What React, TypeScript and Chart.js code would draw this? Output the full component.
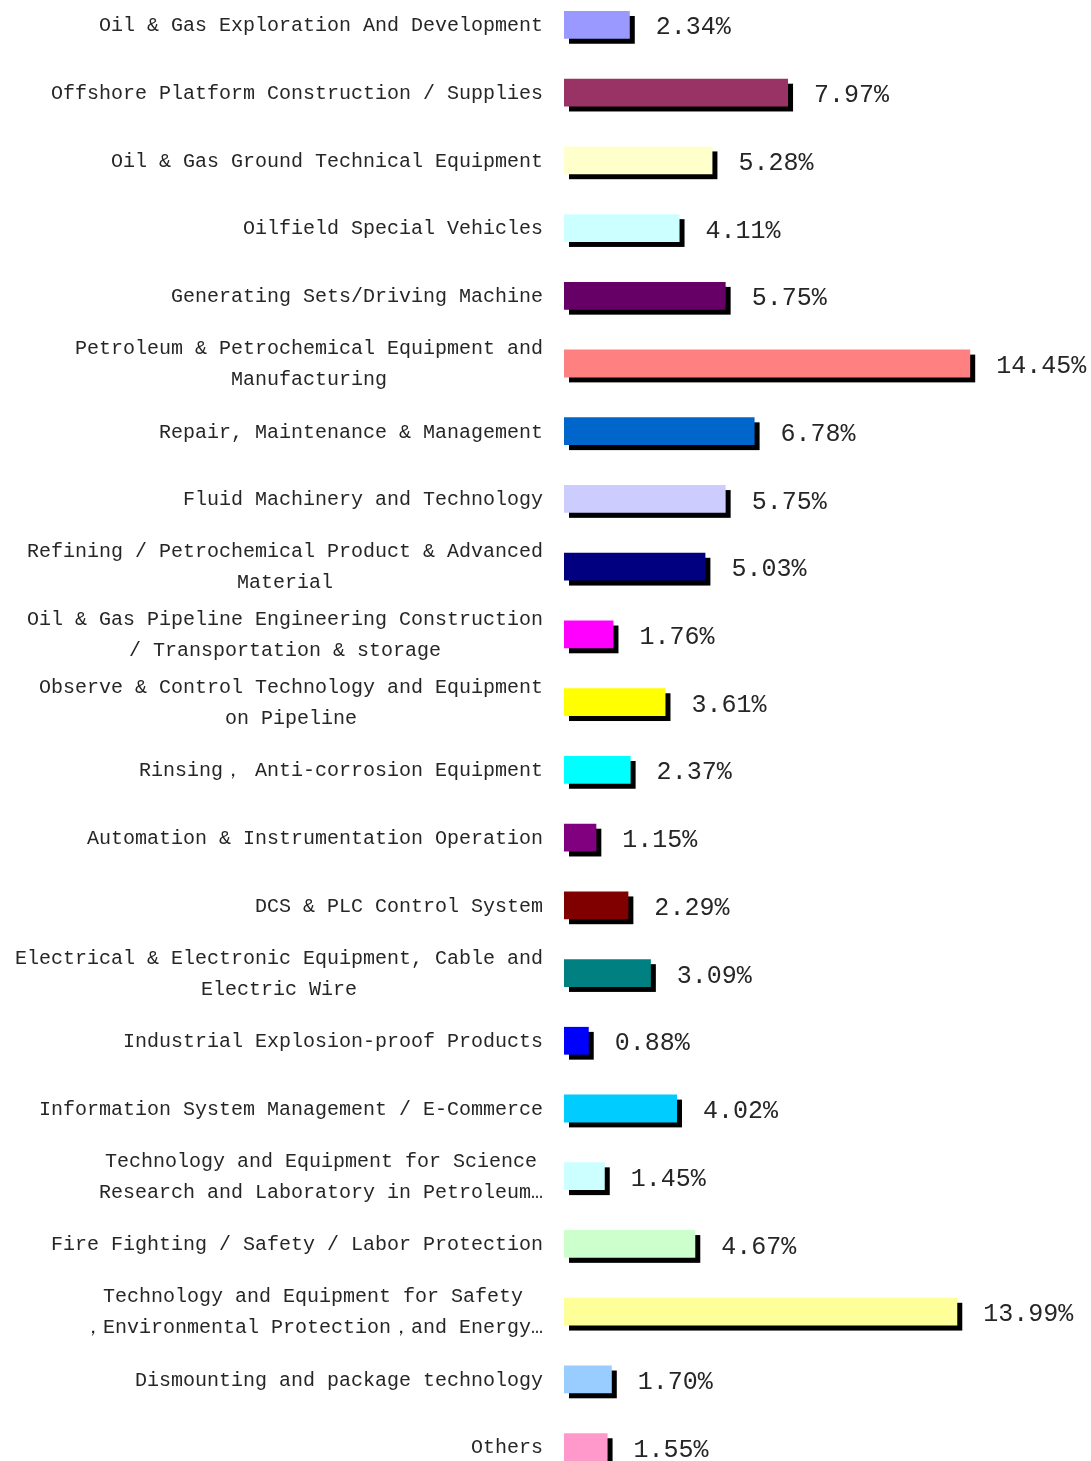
import React, { useEffect, useRef } from "react";
import { Chart, registerables } from "chart.js";

Chart.register(...registerables);

const categories: string[][] = [
  ["Oil & Gas Exploration And Development"],
  ["Offshore Platform Construction / Supplies"],
  ["Oil & Gas Ground Technical Equipment"],
  ["Oilfield Special Vehicles"],
  ["Generating Sets/Driving Machine"],
  ["Petroleum & Petrochemical Equipment and", "Manufacturing"],
  ["Repair, Maintenance & Management"],
  ["Fluid Machinery and Technology"],
  ["Refining / Petrochemical Product & Advanced", "Material"],
  ["Oil & Gas Pipeline Engineering Construction", "/ Transportation & storage"],
  ["Observe & Control Technology and Equipment", "on Pipeline"],
  ["Rinsing， Anti-corrosion Equipment"],
  ["Automation & Instrumentation Operation"],
  ["DCS & PLC Control System"],
  ["Electrical & Electronic Equipment, Cable and", "Electric Wire"],
  ["Industrial Explosion-proof Products"],
  ["Information System Management / E-Commerce"],
  ["Technology and Equipment for Science", "Research and Laboratory in Petroleum…"],
  ["Fire Fighting / Safety / Labor Protection"],
  ["Technology and Equipment for Safety", "，Environmental Protection，and Energy…"],
  ["Dismounting and package technology"],
  ["Others"],
];

const values: number[] = [
  2.34, 7.97, 5.28, 4.11, 5.75, 14.45, 6.78, 5.75, 5.03, 1.76, 3.61, 2.37, 1.15,
  2.29, 3.09, 0.88, 4.02, 1.45, 4.67, 13.99, 1.7, 1.55,
];

const colors: string[] = [
  "#9999FF", "#993366", "#FFFFCC", "#CCFFFF", "#660066", "#FF8080", "#0066CC",
  "#CCCCFF", "#000080", "#FF00FF", "#FFFF00", "#00FFFF", "#800080", "#800000",
  "#008080", "#0000FF", "#00CCFF", "#CCFFFF", "#CCFFCC", "#FFFF99", "#99CCFF",
  "#FF99CC",
];

const LABEL_FONT = '20px "Liberation Mono", "DejaVu Sans Mono", monospace';
const VALUE_FONT = '25px "Liberation Mono", "DejaVu Sans Mono", monospace';

const shadowPlugin = {
  id: "barShadow",
  beforeDatasetsDraw(chart: any) {
    const ctx = chart.ctx;
    const meta = chart.getDatasetMeta(0);
    ctx.save();
    ctx.fillStyle = "#000000";
    meta.data.forEach((bar: any) => {
      const h = bar.height;
      const left = Math.min(bar.base, bar.x);
      const w = Math.abs(bar.x - bar.base);
      ctx.fillRect(left + 5, bar.y - h / 2 + 5, w, h);
    });
    ctx.restore();
  },
};

const labelsPlugin = {
  id: "customLabels",
  afterDraw(chart: any) {
    const ctx = chart.ctx;
    const yScale = chart.scales.y;
    const meta = chart.getDatasetMeta(0);
    ctx.save();
    ctx.fillStyle = "#262626";
    ctx.textBaseline = "middle";
    ctx.font = LABEL_FONT;
    const blockRight = 543;
    const lineH = 31;
    categories.forEach((lines, i) => {
      const y = yScale.getPixelForValue(i);
      const widths = lines.map((l) => ctx.measureText(l).width);
      const bw = Math.max(...widths);
      const cx = blockRight - bw / 2;
      ctx.textAlign = "center";
      lines.forEach((l, j) => {
        const ly = y + 1 + (j - (lines.length - 1) / 2) * lineH;
        ctx.fillText(l, cx, ly);
      });
    });
    ctx.font = VALUE_FONT;
    ctx.textAlign = "left";
    meta.data.forEach((bar: any, i: number) => {
      ctx.fillText(values[i].toFixed(2) + "%", bar.x + 26, bar.y + 3);
    });
    ctx.restore();
  },
};

export default function App() {
  const ref = useRef<HTMLCanvasElement | null>(null);
  useEffect(() => {
    if (!ref.current) return;
    const chart = new Chart(ref.current, {
      type: "bar",
      data: {
        labels: categories.map((c) => c.join(" ")),
        datasets: [
          {
            data: values,
            backgroundColor: colors,
            borderWidth: 0,
            barPercentage: 0.41,
            categoryPercentage: 1,
          },
        ],
      },
      options: {
        indexAxis: "y",
        responsive: false,
        animation: false,
        devicePixelRatio: 1,
        layout: { padding: { left: 564, right: 21, top: 0, bottom: 0 } },
        plugins: {
          legend: { display: false },
          tooltip: { enabled: false },
          title: { display: false },
        },
        scales: {
          x: { display: false, min: 0, max: 18 },
          y: { display: false, grid: { display: false } },
        },
      },
      plugins: [shadowPlugin, labelsPlugin],
    });
    return () => chart.destroy();
  }, []);
  return (
    <div
      style={{
        position: "absolute",
        left: 0,
        top: 0,
        width: 1091,
        height: 1461,
        overflow: "hidden",
        background: "#ffffff",
      }}
    >
      <canvas
        ref={ref}
        width={1091}
        height={1490}
        style={{ position: "absolute", left: 0, top: -9, width: 1091, height: 1490 }}
      />
    </div>
  );
}
